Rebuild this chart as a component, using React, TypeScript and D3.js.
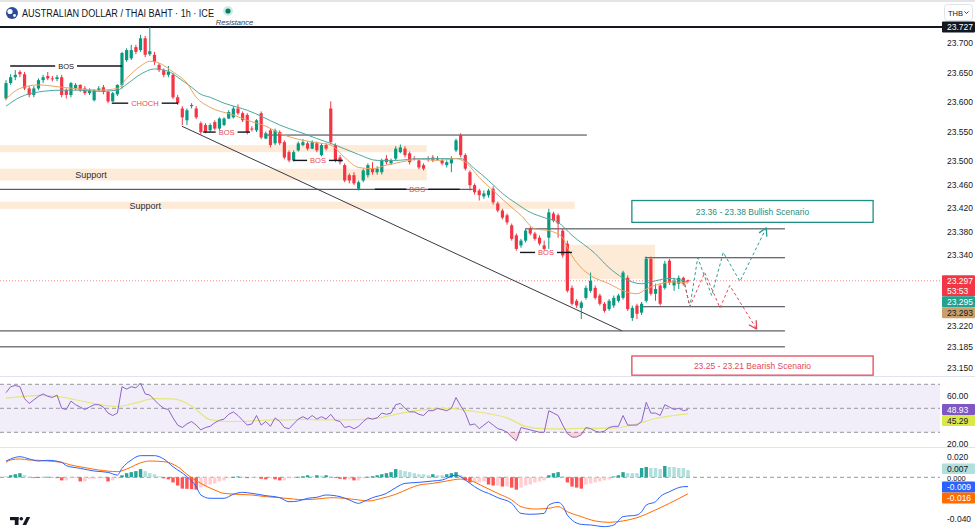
import React, { useEffect, useRef } from "react";
import * as d3 from "d3";

const W = 975;
const H = 530;
const PLOT_R = 942;

// ---------- OHLC (1h AUD/THB), bar index 0..147 ----------
const openP = [
  23.606, 23.632, 23.642, 23.651, 23.647, 23.623, 23.612, 23.623, 23.637, 23.644,
  23.640, 23.639, 23.642, 23.620, 23.612, 23.623, 23.629, 23.623, 23.615, 23.603,
  23.620, 23.625, 23.617, 23.601, 23.613, 23.629, 23.671, 23.674, 23.693, 23.688,
  23.708, 23.681, 23.680, 23.663, 23.654, 23.646, 23.646, 23.608, 23.589, 23.569,
  23.593, 23.589, 23.564, 23.561, 23.552, 23.566, 23.555, 23.561, 23.572, 23.574,
  23.589, 23.581, 23.578, 23.555, 23.552, 23.581, 23.538, 23.552, 23.530, 23.549,
  23.532, 23.515, 23.501, 23.518, 23.527, 23.530, 23.521, 23.530, 23.510, 23.527,
  23.589, 23.527, 23.506, 23.493, 23.476, 23.476, 23.453, 23.467, 23.476, 23.487,
  23.481, 23.481, 23.504, 23.496, 23.504, 23.515, 23.521, 23.513, 23.504, 23.501,
  23.493, 23.504, 23.506, 23.503, 23.501, 23.493, 23.496, 23.518, 23.544, 23.510,
  23.481, 23.459, 23.450, 23.440, 23.442, 23.453, 23.428, 23.416, 23.408, 23.391,
  23.374, 23.357, 23.365, 23.385, 23.377, 23.370, 23.357, 23.370, 23.411, 23.408,
  23.382, 23.360, 23.285, 23.263, 23.251, 23.268, 23.280, 23.285, 23.272, 23.258,
  23.249, 23.255, 23.263, 23.268, 23.302, 23.234, 23.255, 23.243, 23.263, 23.334,
  23.275, 23.289, 23.285, 23.331, 23.289, 23.292, 23.302, 23.298,
];
const highP = [
  23.637, 23.647, 23.654, 23.654, 23.651, 23.627, 23.627, 23.640, 23.646, 23.651,
  23.644, 23.646, 23.646, 23.623, 23.634, 23.632, 23.630, 23.627, 23.623, 23.622,
  23.627, 23.629, 23.620, 23.617, 23.630, 23.685, 23.691, 23.697, 23.697, 23.714,
  23.712, 23.727, 23.685, 23.666, 23.657, 23.661, 23.649, 23.612, 23.593, 23.589,
  23.598, 23.593, 23.567, 23.564, 23.564, 23.569, 23.574, 23.574, 23.586, 23.593,
  23.596, 23.584, 23.581, 23.559, 23.571, 23.584, 23.550, 23.555, 23.555, 23.552,
  23.535, 23.518, 23.518, 23.533, 23.537, 23.533, 23.535, 23.533, 23.530, 23.530,
  23.601, 23.530, 23.510, 23.496, 23.479, 23.481, 23.467, 23.487, 23.496, 23.498,
  23.491, 23.504, 23.510, 23.504, 23.525, 23.528, 23.525, 23.516, 23.508, 23.504,
  23.496, 23.508, 23.510, 23.508, 23.504, 23.501, 23.508, 23.538, 23.547, 23.513,
  23.484, 23.462, 23.453, 23.450, 23.453, 23.457, 23.431, 23.419, 23.411, 23.394,
  23.377, 23.368, 23.385, 23.389, 23.380, 23.374, 23.365, 23.419, 23.414, 23.411,
  23.385, 23.365, 23.289, 23.266, 23.263, 23.289, 23.311, 23.289, 23.275, 23.261,
  23.266, 23.272, 23.275, 23.314, 23.306, 23.255, 23.258, 23.261, 23.338, 23.338,
  23.292, 23.292, 23.331, 23.334, 23.302, 23.306, 23.304, 23.299,
];
const lowP = [
  23.603, 23.629, 23.637, 23.642, 23.620, 23.608, 23.608, 23.620, 23.632, 23.637,
  23.635, 23.635, 23.608, 23.606, 23.608, 23.620, 23.617, 23.612, 23.612, 23.601,
  23.618, 23.613, 23.598, 23.600, 23.610, 23.623, 23.668, 23.671, 23.681, 23.685,
  23.676, 23.678, 23.663, 23.651, 23.642, 23.642, 23.605, 23.595, 23.561, 23.561,
  23.589, 23.571, 23.545, 23.547, 23.549, 23.552, 23.552, 23.559, 23.571, 23.572,
  23.578, 23.566, 23.545, 23.550, 23.549, 23.537, 23.537, 23.523, 23.527, 23.527,
  23.503, 23.498, 23.499, 23.516, 23.525, 23.518, 23.520, 23.515, 23.508, 23.518,
  23.528, 23.498, 23.494, 23.464, 23.462, 23.459, 23.450, 23.464, 23.472, 23.477,
  23.477, 23.477, 23.494, 23.493, 23.501, 23.513, 23.506, 23.494, 23.501, 23.486,
  23.484, 23.499, 23.498, 23.501, 23.493, 23.489, 23.481, 23.515, 23.506, 23.484,
  23.450, 23.443, 23.433, 23.436, 23.438, 23.426, 23.413, 23.401, 23.392, 23.365,
  23.348, 23.353, 23.362, 23.374, 23.365, 23.357, 23.348, 23.351, 23.396, 23.370,
  23.336, 23.277, 23.255, 23.251, 23.232, 23.265, 23.277, 23.265, 23.255, 23.243,
  23.246, 23.251, 23.260, 23.265, 23.246, 23.229, 23.232, 23.239, 23.260, 23.272,
  23.263, 23.255, 23.282, 23.290, 23.280, 23.283, 23.289, 23.294,
];
const closeP = [
  23.632, 23.642, 23.646, 23.647, 23.623, 23.612, 23.623, 23.637, 23.642, 23.640,
  23.639, 23.642, 23.612, 23.612, 23.632, 23.629, 23.620, 23.615, 23.620, 23.620,
  23.623, 23.617, 23.601, 23.615, 23.629, 23.683, 23.688, 23.688, 23.685, 23.708,
  23.680, 23.686, 23.668, 23.654, 23.646, 23.651, 23.608, 23.598, 23.574, 23.586,
  23.595, 23.574, 23.549, 23.549, 23.561, 23.555, 23.572, 23.572, 23.583, 23.589,
  23.581, 23.569, 23.549, 23.554, 23.569, 23.540, 23.547, 23.527, 23.552, 23.530,
  23.506, 23.501, 23.515, 23.530, 23.532, 23.521, 23.532, 23.518, 23.527, 23.521,
  23.532, 23.501, 23.498, 23.467, 23.467, 23.462, 23.464, 23.484, 23.493, 23.481,
  23.487, 23.501, 23.498, 23.501, 23.521, 23.523, 23.510, 23.498, 23.503, 23.489,
  23.487, 23.503, 23.501, 23.504, 23.496, 23.498, 23.504, 23.535, 23.510, 23.487,
  23.459, 23.447, 23.442, 23.445, 23.450, 23.430, 23.416, 23.404, 23.396, 23.368,
  23.351, 23.365, 23.382, 23.377, 23.368, 23.360, 23.351, 23.413, 23.399, 23.394,
  23.340, 23.280, 23.258, 23.255, 23.260, 23.285, 23.297, 23.268, 23.258, 23.246,
  23.263, 23.268, 23.272, 23.311, 23.249, 23.251, 23.241, 23.258, 23.334, 23.275,
  23.283, 23.258, 23.326, 23.294, 23.297, 23.302, 23.292, 23.297,
];

// ---------- moving averages on price (read at sample bars) ----------
const emaFastBars = [0, 3, 7, 12, 16, 20, 24, 26, 29, 31, 33, 36, 39, 41, 44, 49, 52, 56, 59, 64, 68, 70, 73, 76, 79, 82, 85, 89, 93, 97, 99, 102, 105, 108, 111, 114, 117, 120, 121, 123, 126, 130, 133, 136, 138, 141, 144, 147];
const emaFastVals = [23.605, 23.623, 23.629, 23.625, 23.622, 23.620, 23.623, 23.640, 23.661, 23.669, 23.666, 23.651, 23.632, 23.608, 23.591, 23.578, 23.569, 23.559, 23.547, 23.535, 23.530, 23.527, 23.506, 23.489, 23.487, 23.493, 23.498, 23.503, 23.501, 23.504, 23.498, 23.472, 23.450, 23.428, 23.408, 23.385, 23.382, 23.370, 23.353, 23.328, 23.306, 23.292, 23.280, 23.275, 23.283, 23.292, 23.295, 23.293];
const emaSlowBars = [0, 3, 7, 12, 16, 20, 24, 26, 29, 32, 35, 37, 40, 42, 44, 47, 50, 52, 55, 59, 61, 64, 67, 71, 76, 80, 84, 89, 93, 98, 101, 104, 107, 110, 113, 116, 119, 122, 127, 130, 133, 137, 140, 143, 147];
const emaSlowVals = [23.593, 23.608, 23.617, 23.620, 23.620, 23.618, 23.620, 23.630, 23.647, 23.656, 23.652, 23.642, 23.625, 23.613, 23.608, 23.598, 23.591, 23.586, 23.576, 23.561, 23.555, 23.547, 23.538, 23.527, 23.511, 23.501, 23.501, 23.504, 23.504, 23.504, 23.487, 23.467, 23.445, 23.428, 23.413, 23.404, 23.396, 23.374, 23.343, 23.319, 23.302, 23.292, 23.297, 23.301, 23.295];

// ---------- RSI ----------
const rsiVals = [
  63, 68, 69, 68, 58, 54, 57, 60, 62, 60,
  59, 61, 50, 49, 56, 53, 51, 49, 51, 53,
  53, 51, 46, 44, 46, 68, 66, 68, 67, 71,
  62, 61, 57, 53, 50, 49, 42, 36, 34, 37,
  39, 36, 32, 34, 35, 38, 40, 41, 45, 47,
  44, 40, 36, 37, 44, 36, 39, 35, 42, 39,
  34, 33, 37, 41, 43, 41, 44, 41, 43, 41,
  45, 40, 39, 34, 35, 33, 35, 39, 42, 41,
  42, 46, 45, 46, 53, 54, 50, 47, 47, 45,
  44, 48, 48, 50, 49, 48, 50, 59, 52, 46,
  36, 37, 33, 36, 39, 36, 33, 32, 30, 26,
  23, 34, 33, 32, 31, 30, 30, 48, 46, 44,
  36, 29, 26, 26, 28, 34, 33, 31, 30, 31,
  34, 35, 35, 44, 36, 36, 36, 39, 55, 46,
  46, 44, 53, 51, 49, 50, 48, 48.93,
];
const rsiMaBars = [0, 4, 8, 12, 16, 20, 24, 28, 32, 36, 40, 44, 48, 52, 56, 60, 64, 68, 72, 76, 80, 84, 88, 92, 96, 100, 104, 108, 112, 116, 120, 124, 128, 132, 136, 140, 144, 147];
const rsiMaVals = [58.5, 60, 60.7, 59.3, 56.3, 53.3, 51.5, 54.5, 58, 57.8, 52, 40.5, 38.9, 39.2, 40.2, 40.3, 40.7, 40.3, 40.3, 40.6, 41.8, 45, 47.8, 49.6, 50, 47.8, 45.5, 42, 35, 33, 32.8, 33.2, 33.3, 33.9, 37, 41.5, 44, 45.29];
const rsiLevels = [70, 50, 30];

// ---------- MACD ----------
const macdBars = [0, 1, 3, 5, 7, 9, 12, 13, 16, 19, 22, 24, 25, 27, 29, 32, 34, 36, 39, 41, 42, 44, 47, 49, 51, 53, 56, 59, 61, 63, 65, 67, 69, 72, 74, 76, 77, 79, 82, 84, 86, 89, 92, 94, 97, 99, 101, 103, 104, 106, 109, 111, 113, 116, 117, 119, 120, 121, 124, 126, 129, 131, 133, 136, 137, 138, 140, 141, 143, 146, 147];
const macdVals = [0.0158, 0.0178, 0.0200, 0.0178, 0.0158, 0.0165, 0.0145, 0.0113, 0.0087, 0.0061, 0.0048, 0.0022, 0.0087, 0.0168, 0.0210, 0.0210, 0.0178, 0.0103, 0.0006, -0.0091, -0.0172, -0.0204, -0.0204, -0.0165, -0.0146, -0.0156, -0.0178, -0.0198, -0.0237, -0.0230, -0.0204, -0.0194, -0.0172, -0.0188, -0.0220, -0.0253, -0.0237, -0.0198, -0.0156, -0.0101, -0.0059, -0.0049, -0.0036, -0.0026, 0.0022, -0.0026, -0.0091, -0.0140, -0.0156, -0.0198, -0.0253, -0.0350, -0.0359, -0.0350, -0.0269, -0.0243, -0.0275, -0.0366, -0.0457, -0.0463, -0.0479, -0.0463, -0.0382, -0.0366, -0.0334, -0.0269, -0.0237, -0.0188, -0.0140, -0.0091, -0.009];
const signalBars = [0, 1, 3, 5, 7, 9, 12, 14, 17, 20, 24, 26, 29, 31, 34, 37, 39, 42, 45, 47, 50, 53, 56, 59, 62, 64, 67, 70, 73, 76, 78, 81, 84, 87, 89, 92, 95, 98, 100, 103, 106, 109, 111, 114, 117, 119, 121, 124, 127, 130, 133, 136, 140, 143, 147];
const signalVals = [0.0145, 0.0168, 0.0178, 0.0168, 0.0165, 0.0158, 0.0145, 0.0119, 0.0094, 0.0071, 0.0055, 0.0080, 0.0140, 0.0158, 0.0152, 0.0103, 0.0029, -0.0059, -0.0124, -0.0156, -0.0165, -0.0172, -0.0188, -0.0198, -0.0211, -0.0217, -0.0211, -0.0198, -0.0204, -0.0220, -0.0230, -0.0204, -0.0165, -0.0107, -0.0075, -0.0059, -0.0036, -0.0017, -0.0030, -0.0091, -0.0156, -0.0220, -0.0285, -0.0308, -0.0301, -0.0285, -0.0334, -0.0382, -0.0424, -0.0437, -0.0424, -0.0392, -0.0317, -0.0253, -0.016];
const histVals = [
  0.001, 0.002, 0.003, 0.004, 0.002, 0.0005, -0.0005, 0.0003, 0.0003, 0.0005,
  0.0003, -0.0005, -0.003, -0.003, -0.001, -0.0008, -0.004, -0.004, -0.0015, -0.0015,
  -0.001, -0.001, -0.004, -0.003, -0.001, 0.002, 0.004, 0.005, 0.006, 0.008,
  0.006, 0.004, 0.003, 0.001, -0.001, -0.002, -0.005, -0.008, -0.011, -0.0112,
  -0.0115, -0.012, -0.010, -0.009, -0.007, -0.006, -0.004, -0.003, -0.001, 0.0005,
  0.0008, 0.0005, -0.0008, -0.0005, -0.0003, -0.0015, -0.002, -0.001, -0.002, -0.003,
  -0.003, -0.001, -0.0005, 0.0005, 0.001, 0.002, 0.001, 0.002, 0.0015, 0.002,
  0.0008, -0.0005, -0.0015, -0.002, -0.002, -0.003, -0.003, -0.001, 0.0005, 0.001,
  0.002, 0.003, 0.004, 0.005, 0.008, 0.007, 0.006, 0.005, 0.004, 0.003,
  0.003, 0.002, 0.003, 0.002, 0.002, 0.003, 0.004, 0.005, 0.002, -0.003,
  -0.005, -0.005, -0.005, -0.004, -0.007, -0.008, -0.008, -0.009, -0.009, -0.010,
  -0.012, -0.010, -0.008, -0.007, -0.005, -0.004, -0.003, 0.002, 0.004, 0.005,
  0.001, -0.005, -0.009, -0.010, -0.011, -0.007, -0.006, -0.005, -0.004, -0.003,
  -0.002, 0.0008, 0.002, 0.005, 0.004, 0.004, 0.004, 0.009, 0.010, 0.009,
  0.009, 0.008, 0.011, 0.010, 0.010, 0.009, 0.009, 0.007,
];

// ---------- drawings ----------
const resistancePrice = 23.727;
const resistanceLabelBar = 45.2;
const zoneTop = [23.527, 23.487, 23.431, 23.358];
const zoneBottom = [23.515, 23.467, 23.419, 23.300];
const zoneFrom = [-2, -2, -2, 120.5];
const zoneTo = [90.7, 90.7, 122.6, 139.9];
const zoneLabel = ["", "Support", "Support", ""];
const zoneLabelBar = [0, 18.3, 30, 0];

const levelPrice = [23.544, 23.452, 23.385, 23.336, 23.253, 23.212, 23.185];
const levelFrom = [56.3, -2, 111.9, 137.7, 136.6, -2, -2];
const levelTo = [125.2, 100.6, 167.9, 167.9, 167.9, 167.9, 167.9];

const structPrice = [23.661, 23.598, 23.549, 23.501, 23.452, 23.345];
const structFrom = [0.9, 22.8, 42.5, 61.9, 79.5, 110.8];
const structTo = [25, 37.1, 52.6, 72.6, 97.8, 122];
const structText = ["BOS", "CHOCH", "BOS", "BOS", "BOS", "BOS"];

const trendBars = [37.9, 132.8];
const trendPrices = [23.559, 23.212];

const scenarioText = ["23.36 - 23.38 Bullish Scenario", "23.25 - 23.21 Bearish Scenario"];
const scenarioTop = [23.433, 23.1695];
const scenarioBottom = [23.396, 23.137];
const scenarioFrom = [134.9, 134.9];
const scenarioTo = [186.9, 186.9];

const bullPathBars = [146.3, 147.4, 149.1, 152.1, 154.6, 158.2, 163.9];
const bullPathPrices = [23.291, 23.253, 23.336, 23.272, 23.345, 23.296, 23.387];
const bearPathBars = [146.3, 147.4, 150.6, 153.9, 156.0, 161.8];
const bearPathPrices = [23.291, 23.253, 23.311, 23.251, 23.289, 23.215];

// ---------- axes ----------
const priceTicks = [23.7, 23.65, 23.6, 23.55, 23.5, 23.46, 23.42, 23.38, 23.34, 23.22, 23.185, 23.15];
const rsiTicks = [60, 20];
const macdTicks = [0.02, 0, -0.04];
const countdown = "53:53";
const title = "AUSTRALIAN DOLLAR / THAI BAHT · 1h · ICE";

const FONT = "'Liberation Sans', Arial, sans-serif";

export default function App() {
  const ref = useRef<SVGSVGElement>(null);

  useEffect(() => {
    document.body.style.margin = "0";
    const svg = d3.select(ref.current as SVGSVGElement);
    svg.selectAll("*").remove();
    svg.attr("font-family", FONT);

    const x = d3.scaleLinear().domain([0, 147]).range([6, 688]);
    const y = d3.scaleLinear().domain([23.15, 23.7]).range([367.5, 43]);
    const yR = d3.scaleLinear().domain([30, 70]).range([432.3, 384.3]);
    const yM = d3.scaleLinear().domain([-0.04, 0.02]).range([518.5, 456.7]);

    svg.append("rect").attr("width", W).attr("height", H).attr("fill", "#ffffff");
    svg.append("rect").attr("width", W).attr("height", 2).attr("fill", "#e4e4e4");

    const defs = svg.append("defs");
    defs.append("clipPath").attr("id", "clipMain").append("rect").attr("x", 0).attr("y", 0).attr("width", PLOT_R).attr("height", 376);
    defs.append("clipPath").attr("id", "clipRsi").append("rect").attr("x", 0).attr("y", 377).attr("width", PLOT_R).attr("height", 70);
    defs.append("clipPath").attr("id", "clipMacd").append("rect").attr("x", 0).attr("y", 448).attr("width", PLOT_R).attr("height", 82);

    const main = svg.append("g").attr("clip-path", "url(#clipMain)");

    // zones
    zoneTop.forEach((t, i) => {
      main.append("rect")
        .attr("x", x(zoneFrom[i])).attr("y", y(t))
        .attr("width", x(zoneTo[i]) - x(zoneFrom[i]))
        .attr("height", y(zoneBottom[i]) - y(t))
        .attr("fill", "rgba(247,168,88,0.24)");
      if (zoneLabel[i]) {
        main.append("text")
          .attr("x", x(zoneLabelBar[i])).attr("y", (y(t) + y(zoneBottom[i])) / 2 + 0.5)
          .attr("text-anchor", "middle").attr("dominant-baseline", "central")
          .attr("font-size", 9).attr("fill", "#2a2e39").text(zoneLabel[i]);
      }
    });

    // last price dotted line
    const lastClose = closeP[closeP.length - 1];
    main.append("line").attr("x1", 0).attr("x2", PLOT_R)
      .attr("y1", y(lastClose)).attr("y2", y(lastClose))
      .attr("stroke", "#f23645").attr("stroke-opacity", 0.6)
      .attr("stroke-dasharray", "1,2").attr("stroke-width", 1);

    // horizontal levels
    levelPrice.forEach((p, i) => {
      main.append("line").attr("x1", x(levelFrom[i])).attr("x2", x(levelTo[i]))
        .attr("y1", y(p)).attr("y2", y(p)).attr("stroke", "#363a45").attr("stroke-width", 1);
    });

    // resistance
    main.append("line").attr("x1", 0).attr("x2", PLOT_R)
      .attr("y1", y(resistancePrice)).attr("y2", y(resistancePrice))
      .attr("stroke", "#131722").attr("stroke-width", 2);
    svg.append("text").attr("x", x(resistanceLabelBar)).attr("y", y(resistancePrice) - 2.2)
      .attr("font-size", 7.6).attr("font-style", "italic").attr("fill", "#3a3e48").text("Resistance");

    // trendline
    main.append("line").attr("x1", x(trendBars[0])).attr("y1", y(trendPrices[0]))
      .attr("x2", x(trendBars[1])).attr("y2", y(trendPrices[1]))
      .attr("stroke", "#363a45").attr("stroke-width", 1);

    // candles
    const up = "#089981";
    const dn = "#f23645";
    closeP.forEach((c, i) => {
      const o = openP[i];
      const col = c >= o ? up : dn;
      main.append("line").attr("x1", x(i)).attr("x2", x(i))
        .attr("y1", y(highP[i])).attr("y2", y(lowP[i]))
        .attr("stroke", col).attr("stroke-width", 1);
      const top = y(Math.max(o, c));
      const bot = y(Math.min(o, c));
      main.append("rect").attr("x", x(i) - 1.6).attr("y", top)
        .attr("width", 3.2).attr("height", Math.max(1, bot - top)).attr("fill", col);
    });

    // EMAs
    const smooth = d3.line<[number, number]>().x((d) => d[0]).y((d) => d[1]).curve(d3.curveMonotoneX);
    main.append("path")
      .attr("d", smooth(emaSlowBars.map((b, i) => [x(b), y(emaSlowVals[i])] as [number, number])))
      .attr("fill", "none").attr("stroke", "#4ea79d").attr("stroke-width", 1);
    main.append("path")
      .attr("d", smooth(emaFastBars.map((b, i) => [x(b), y(emaFastVals[i])] as [number, number])))
      .attr("fill", "none").attr("stroke", "#eaa460").attr("stroke-width", 1);

    // structure labels
    structPrice.forEach((p, i) => {
      const x1 = x(structFrom[i]);
      const x2 = x(structTo[i]);
      const yy = y(p);
      const mid = (x1 + x2) / 2;
      const col = i === 0 ? "#131722" : "#e5485a";
      const t = main.append("text").attr("x", mid).attr("y", yy + 0.5)
        .attr("text-anchor", "middle").attr("dominant-baseline", "central")
        .attr("font-size", 7.5).attr("fill", col).text(structText[i]);
      const tw = (t.node() as SVGTextElement).getComputedTextLength();
      main.append("line").attr("x1", x1).attr("x2", mid - tw / 2 - 3)
        .attr("y1", yy).attr("y2", yy).attr("stroke", "#131722").attr("stroke-width", 1.4);
      main.append("line").attr("x1", mid + tw / 2 + 3).attr("x2", x2)
        .attr("y1", yy).attr("y2", yy).attr("stroke", "#131722").attr("stroke-width", 1.4);
    });

    // projection paths
    const straight = d3.line<[number, number]>().x((d) => d[0]).y((d) => d[1]);
    const drawPath = (bars: number[], prices: number[], col: string) => {
      const pts = bars.map((b, i) => [x(b), y(prices[i])] as [number, number]);
      main.append("path").attr("d", straight(pts)).attr("fill", "none")
        .attr("stroke", col).attr("stroke-width", 1).attr("stroke-dasharray", "3,2.5");
      const a = pts[pts.length - 2];
      const b = pts[pts.length - 1];
      const ang = Math.atan2(a[1] - b[1], a[0] - b[0]);
      [0.5, -0.5].forEach((d) => {
        main.append("line").attr("x1", b[0]).attr("y1", b[1])
          .attr("x2", b[0] + 9 * Math.cos(ang + d)).attr("y2", b[1] + 9 * Math.sin(ang + d))
          .attr("stroke", col).attr("stroke-width", 1.3);
      });
    };
    drawPath(bullPathBars, bullPathPrices, "#2a9d93");
    drawPath(bearPathBars, bearPathPrices, "#e5485a");

    // scenario boxes
    scenarioText.forEach((s, i) => {
      const col = i === 0 ? "#1f8f84" : "#e5485a";
      const x1 = x(scenarioFrom[i]);
      const x2 = x(scenarioTo[i]);
      const y1 = y(scenarioTop[i]);
      const y2 = y(scenarioBottom[i]);
      main.append("rect").attr("x", x1).attr("y", y1).attr("width", x2 - x1).attr("height", y2 - y1)
        .attr("fill", "#ffffff").attr("stroke", col).attr("stroke-width", 1.3);
      main.append("text").attr("x", (x1 + x2) / 2).attr("y", (y1 + y2) / 2 + 0.5)
        .attr("text-anchor", "middle").attr("dominant-baseline", "central")
        .attr("font-size", 8.5).attr("fill", col).text(s);
    });

    // ---------- RSI pane ----------
    const rsiG = svg.append("g").attr("clip-path", "url(#clipRsi)");
    rsiG.append("rect").attr("x", 0).attr("y", yR(70)).attr("width", 940)
      .attr("height", yR(30) - yR(70)).attr("fill", "rgba(126,87,194,0.1)");
    rsiLevels.forEach((v) => {
      rsiG.append("line").attr("x1", 0).attr("x2", 940).attr("y1", yR(v)).attr("y2", yR(v))
        .attr("stroke", "#9598a1").attr("stroke-width", 1).attr("stroke-dasharray", "4,3");
    });
    const osArea = d3.area<number>().x((_, i) => x(i)).y0(yR(30)).y1((v) => yR(Math.min(v, 30)));
    rsiG.append("path").datum(rsiVals).attr("d", osArea as any).attr("fill", "rgba(242,54,69,0.22)");
    const obArea = d3.area<number>().x((_, i) => x(i)).y0(yR(70)).y1((v) => yR(Math.max(v, 70)));
    rsiG.append("path").datum(rsiVals).attr("d", obArea as any).attr("fill", "rgba(8,153,129,0.22)");
    rsiG.append("path")
      .attr("d", smooth(rsiMaBars.map((b, i) => [x(b), yR(rsiMaVals[i])] as [number, number])))
      .attr("fill", "none").attr("stroke", "#e4e77a").attr("stroke-width", 1.2);
    rsiG.append("path")
      .attr("d", straight(rsiVals.map((v, i) => [x(i), yR(v)] as [number, number])))
      .attr("fill", "none").attr("stroke", "#8e63c9").attr("stroke-width", 1);

    // ---------- MACD pane ----------
    const mG = svg.append("g").attr("clip-path", "url(#clipMacd)");
    mG.append("line").attr("x1", 0).attr("x2", 940).attr("y1", yM(0)).attr("y2", yM(0))
      .attr("stroke", "#9598a1").attr("stroke-width", 1).attr("stroke-dasharray", "4,3");
    histVals.forEach((v, i) => {
      const prev = i > 0 ? histVals[i - 1] : v;
      let col;
      if (v >= 0) col = v > prev ? "#26a69a" : "#b2dfdb";
      else col = v < prev ? "#ff5252" : "#ffcdd2";
      const y0 = yM(0);
      const y1 = yM(v);
      mG.append("rect").attr("x", x(i) - 1.7).attr("width", 3.4)
        .attr("y", Math.min(y0, y1)).attr("height", Math.max(0.8, Math.abs(y1 - y0))).attr("fill", col);
    });
    mG.append("path")
      .attr("d", smooth(signalBars.map((b, i) => [x(b), yM(signalVals[i])] as [number, number])))
      .attr("fill", "none").attr("stroke", "#ff6d00").attr("stroke-width", 1);
    mG.append("path")
      .attr("d", smooth(macdBars.map((b, i) => [x(b), yM(macdVals[i])] as [number, number])))
      .attr("fill", "none").attr("stroke", "#2962ff").attr("stroke-width", 1);

    // separators
    [376.5, 447.5].forEach((yy) => {
      svg.append("line").attr("x1", 0).attr("x2", W).attr("y1", yy).attr("y2", yy)
        .attr("stroke", "#e0e3eb").attr("stroke-width", 1);
    });

    // ---------- axis ----------
    const axisX = 947;
    const ax = svg.append("g").attr("font-size", 8.5).attr("fill", "#131722");
    priceTicks.forEach((p) => {
      ax.append("text").attr("x", axisX).attr("y", y(p)).attr("dominant-baseline", "central").text(p.toFixed(3));
    });
    rsiTicks.forEach((v) => {
      ax.append("text").attr("x", axisX).attr("y", yR(v)).attr("dominant-baseline", "central").text(v.toFixed(2));
    });
    macdTicks.forEach((v) => {
      ax.append("text").attr("x", axisX).attr("y", yM(v) + (v === 0 ? 0.8 : 0))
        .attr("dominant-baseline", "central").attr("font-size", v === 0 ? 7.5 : 8.5).text(v.toFixed(3));
    });

    const badge = (cy: number, h: number, bg: string, fg: string, lines: string[]) => {
      svg.append("rect").attr("x", 942).attr("y", cy).attr("width", 33).attr("height", h).attr("fill", bg).attr("rx", 1);
      lines.forEach((t, k) => {
        svg.append("text").attr("x", axisX).attr("y", cy + 5.7 + k * 10)
          .attr("dominant-baseline", "central").attr("font-size", 8.5).attr("fill", fg).text(t);
      });
    };
    // resistance badge
    badge(y(resistancePrice) - 5.5, 11, "#131722", "#ffffff", [resistancePrice.toFixed(3)]);

    // stacked badges
    const stack = (items: { v: number; pos: number; h: number; bg: string; fg: string; lines: string[] }[]) => {
      items.sort((a, b) => a.pos - b.pos);
      let lastBottom = -Infinity;
      items.forEach((it) => {
        let top = it.pos - 5.5;
        if (top < lastBottom) top = lastBottom;
        badge(top, it.h, it.bg, it.fg, it.lines);
        lastBottom = top + it.h;
      });
    };
    const lastFast = emaFastVals[emaFastVals.length - 1];
    const lastSlow = emaSlowVals[emaSlowVals.length - 1];
    stack([
      { v: lastClose, pos: y(lastClose), h: 21, bg: "#f23645", fg: "#ffffff", lines: [lastClose.toFixed(3), countdown] },
      { v: lastSlow, pos: y(lastSlow), h: 11, bg: "#22a28f", fg: "#ffffff", lines: [lastSlow.toFixed(3)] },
      { v: lastFast, pos: y(lastFast), h: 11, bg: "#c9a06a", fg: "#131722", lines: [lastFast.toFixed(3)] },
    ]);
    const lastRsi = rsiVals[rsiVals.length - 1];
    const lastRsiMa = rsiMaVals[rsiMaVals.length - 1];
    stack([
      { v: lastRsi, pos: yR(lastRsi), h: 11, bg: "#7e57c2", fg: "#ffffff", lines: [lastRsi.toFixed(2)] },
      { v: lastRsiMa, pos: yR(lastRsiMa), h: 11, bg: "#dbe84a", fg: "#131722", lines: [lastRsiMa.toFixed(2)] },
    ]);
    const lastHist = histVals[histVals.length - 1];
    const lastMacd = macdVals[macdVals.length - 1];
    const lastSig = signalVals[signalVals.length - 1];
    stack([
      { v: lastHist, pos: yM(lastHist) - 1, h: 10.5, bg: "#b2dfdb", fg: "#131722", lines: [lastHist.toFixed(3)] },
      { v: lastMacd, pos: yM(lastMacd) + 0.5, h: 11, bg: "#2962ff", fg: "#ffffff", lines: [lastMacd.toFixed(3)] },
      { v: lastSig, pos: yM(lastSig), h: 11, bg: "#ff6d00", fg: "#ffffff", lines: [lastSig.toFixed(3)] },
    ]);

    // THB selector
    svg.append("rect").attr("x", 944.5).attr("y", 4.5).attr("width", 28).attr("height", 16).attr("rx", 3)
      .attr("fill", "#fff").attr("stroke", "#e0e3eb");
    svg.append("text").attr("x", 948).attr("y", 13).attr("dominant-baseline", "central")
      .attr("font-size", 7.5).attr("fill", "#131722").text("THB");
    svg.append("path").attr("d", "M964.5,11.5 L966.5,13.5 L968.5,11.5").attr("fill", "none")
      .attr("stroke", "#131722").attr("stroke-width", 0.8);

    // header
    svg.append("circle").attr("cx", 12).attr("cy", 13).attr("r", 6).attr("fill", "#2b4c9b");
    svg.append("circle").attr("cx", 10).attr("cy", 11.5).attr("r", 2.6).attr("fill", "#ffffff");
    svg.append("circle").attr("cx", 14.5).attr("cy", 15.5).attr("r", 1.4).attr("fill", "#ffffff");
    svg.append("text").attr("x", 22).attr("y", 16.8).attr("font-size", 10).attr("fill", "#131722")
      .attr("textLength", 192).attr("lengthAdjust", "spacingAndGlyphs").text(title);
    svg.append("circle").attr("cx", 228).attr("cy", 11).attr("r", 5).attr("fill", "rgba(8,153,129,0.2)");
    svg.append("circle").attr("cx", 228).attr("cy", 11).attr("r", 2.6).attr("fill", "#0b7a5f");

    // TradingView logo
    const logo = svg.append("g").attr("fill", "#131722");
    logo.append("rect").attr("x", 10).attr("y", 517).attr("width", 8.5).attr("height", 3.2);
    logo.append("rect").attr("x", 14.8).attr("y", 517).attr("width", 3.7).attr("height", 8);
    logo.append("circle").attr("cx", 21.3).attr("cy", 518.8).attr("r", 1.8);
    logo.append("path").attr("d", "M22.5,525 L26.5,517 L30.2,517 L26.2,525 Z");
  }, []);

  return (
    <svg
      ref={ref}
      width={W}
      height={H}
      style={{ position: "absolute", left: 0, top: 0, display: "block" }}
    />
  );
}
